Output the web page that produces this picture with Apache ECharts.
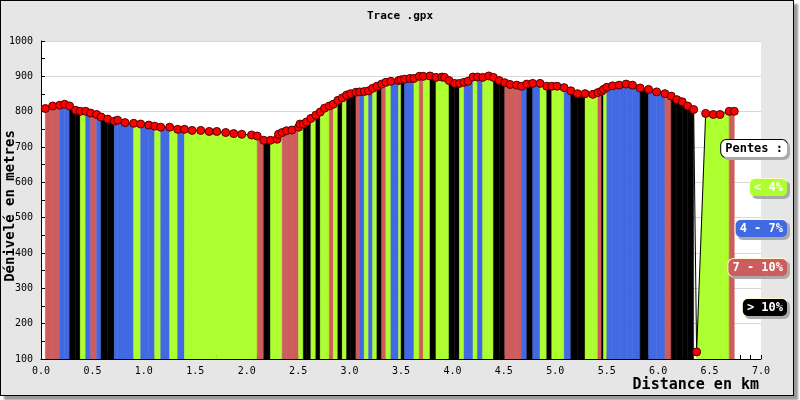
<!doctype html>
<html>
<head>
    <meta charset="UTF-8">
    <title>Trace .gpx</title>
    <script src="https://cdn.jsdelivr.net/npm/echarts@6/dist/echarts.min.js"></script>
    <style>
        body { margin: 0; background: #fff; }
        #frame {
            position: absolute; left: 0; top: 0;
            width: 792px; height: 394px;
            border: 1px solid #000;
            background: #e6e6e6;
            box-shadow: 4px 4px 2px #999;
        }
        #main { position: absolute; left: 0; top: 0; width: 800px; height: 400px; }
    </style>
</head>
<body>
<div id="frame"></div>
<div id="main"></div>
<script>
    // distance (km) / altitude (m) of each gpx point
    var distKm = [
        0.042, 0.113, 0.181, 0.230, 0.278, 0.337, 0.382, 0.434, 0.483, 0.541,
        0.584, 0.648, 0.713, 0.745, 0.817, 0.901, 0.969, 1.047, 1.105, 1.164,
        1.251, 1.329, 1.395, 1.469, 1.553, 1.635, 1.709, 1.796, 1.874, 1.952,
        2.047, 2.102, 2.166, 2.231, 2.295, 2.309, 2.345, 2.387, 2.439, 2.504,
        2.518, 2.550, 2.582, 2.624, 2.672, 2.715, 2.757, 2.803, 2.842, 2.886,
        2.929, 2.971, 3.010, 3.062, 3.098, 3.143, 3.185, 3.224, 3.266, 3.312,
        3.353, 3.402, 3.477, 3.501, 3.535, 3.587, 3.626, 3.678, 3.717, 3.782,
        3.840, 3.898, 3.923, 3.967, 4.022, 4.068, 4.113, 4.151, 4.200, 4.243,
        4.294, 4.353, 4.399, 4.455, 4.509, 4.560, 4.625, 4.671, 4.723, 4.781,
        4.852, 4.917, 4.966, 5.017, 5.086, 5.151, 5.216, 5.290, 5.365, 5.414,
        5.450, 5.469, 5.501, 5.557, 5.621, 5.689, 5.751, 5.825, 5.907, 5.985,
        6.066, 6.127, 6.182, 6.234, 6.287, 6.345, 6.374, 6.462, 6.536, 6.601,
        6.691, 6.740
    ];
    var altM = [
        809, 816, 818, 821, 816, 804, 801, 801, 796, 792,
        785, 779, 773, 776, 769, 767, 765, 762, 759, 756,
        756, 750, 750, 747, 747, 744, 744, 741, 738, 736,
        734, 731, 719, 719, 722, 736, 741, 746, 748, 756,
        765, 765, 771, 781, 790, 799, 810, 816, 821, 832,
        839, 847, 851, 855, 856, 857, 859, 866, 872, 878,
        883, 886, 888, 890, 892, 894, 894, 900, 900, 901,
        897, 898, 897, 888, 880, 880, 883, 886, 898, 898,
        897, 901, 897, 888, 882, 877, 875, 872, 878, 880,
        880, 872, 872, 872, 868, 859, 851, 851, 849, 854,
        858, 863, 869, 873, 875, 878, 875, 867, 863, 856,
        851, 844, 834, 828, 816, 806, 120, 795, 792, 792,
        801, 801
    ];
    // slope class of each segment (point i -> i+1), index into pentes, -1 = not drawn
    var segClass = [
        2, 2, 1, 1, 3, 3, 0, 1, 2, 1,
        3, 3, 1, 1, 1, 0, 1, 1, 0, 1,
        0, 1, 0, 0, 0, 0, 0, 0, 0, 0,
        0, 2, 3, 0, 0, 0, 2, 2, 2, 0,
        0, 3, 3, 0, 3, 0, 0, 2, 0, 3,
        0, 3, 3, 2, 1, 0, 1, 0, 3, 2,
        0, 1, 0, 3, 1, 1, 0, 2, 0, 3,
        0, 0, 0, 3, 3, 0, 1, 1, 0, 1,
        0, 0, 3, 3, 2, 2, 2, 1, 3, 1,
        0, 3, 0, 0, 1, 3, 3, 0, 0, 2,
        3, 0, 1, 1, 1, 1, 1, 3, 1, 1,
        2, 3, 3, 3, 3, -1, 0, 0, 0, 0,
        2
    ];
    var pentes = ['< 4%', '4 - 7%', '7 - 10%', '> 10%'];
    var penteColors = ['#adff2f', '#4169e1', '#cd5c5c', '#000000'];

    var font = 'DejaVu Sans Mono';
    var yMin = 100;

    var points = [];
    var segs = [];
    for (var i = 0; i < distKm.length; i++) {
        points.push([distKm[i], altM[i]]);
        if (i < distKm.length - 1) {
            segs.push([distKm[i], altM[i], distKm[i + 1], altM[i + 1], segClass[i]]);
        }
    }

    var boxStyle = function (text, fill, bg, border) {
        return {
            text: text,
            font: 'bold 12px ' + font,
            fill: fill,
            backgroundColor: bg,
            borderColor: border,
            borderWidth: 1,
            borderRadius: 5,
            padding: [3, 4, 2, 4],
            shadowColor: '#aaa',
            shadowOffsetX: 2,
            shadowOffsetY: 2
        };
    };

    // legend boxes on the right + y axis title
    var graphics = [{
        type: 'text', right: 12, top: 139, z: 100,
        style: boxStyle('Pentes :', '#000', '#fff', '#000')
    }, {
        type: 'text', x: 10, y: 206, rotation: Math.PI / 2,
        style: {
            text: 'Dénivelé en metres',
            font: 'bold 14px ' + font,
            fill: '#000',
            align: 'center',
            verticalAlign: 'middle'
        }
    }];
    var legendTops = [178, 219, 258, 298];
    pentes.forEach(function (label, k) {
        graphics.push({
            type: 'text', right: 12, top: legendTops[k], z: 100,
            style: boxStyle(label, '#fff', penteColors[k], '#fff8d0')
        });
    });

    var myChart = echarts.init(document.getElementById('main'));

    var option = {
        animation: false,
        title: {
            text: 'Trace .gpx',
            left: 'center',
            top: 6,
            textStyle: { fontFamily: font, fontSize: 11, fontWeight: 'bold', color: '#000' }
        },
        grid: {
            left: 41, top: 41, width: 720, height: 318,
            outerBoundsMode: 'none',
            containLabel: false,
            show: true, backgroundColor: '#fff', borderWidth: 0
        },
        xAxis: {
            type: 'value',
            min: 0, max: 7, interval: 0.5,
            name: 'Distance en km',
            nameLocation: 'end',
            nameGap: -2,
            nameTextStyle: {
                fontFamily: font, fontSize: 15, fontWeight: 'bold', color: '#000',
                align: 'right', verticalAlign: 'top', padding: [19, 0, 0, 0]
            },
            axisLine: { lineStyle: { color: '#000', width: 1 } },
            axisTick: { inside: true, length: 4, lineStyle: { color: '#000' } },
            minorTick: { show: true, splitNumber: 5, length: 4, lineStyle: { color: '#000' } },
            axisLabel: {
                fontFamily: font, fontSize: 10, color: '#000', margin: 7,
                formatter: function (v) { return v.toFixed(1); }
            },
            splitLine: { show: false }
        },
        yAxis: {
            type: 'value',
            min: yMin, max: 1000, interval: 100,
            axisLine: { show: true, lineStyle: { color: '#000', width: 1 } },
            axisTick: { inside: true, length: 4, lineStyle: { color: '#000' } },
            minorTick: { show: true, splitNumber: 2, length: 4, lineStyle: { color: '#000' } },
            axisLabel: {
                fontFamily: font, fontSize: 10, color: '#000', margin: 8,
                formatter: function (v) { return String(v); }
            },
            splitLine: { lineStyle: { color: '#d8d8d8', width: 1 } }
        },
        graphic: graphics,
        series: [
            {
                // coloured band under each segment
                type: 'custom',
                data: segs,
                encode: { x: [0, 2], y: [1, 3] },
                clip: true,
                renderItem: function (params, api) {
                    var c = api.value(4);
                    if (c < 0) {
                        return null;
                    }
                    var p0 = api.coord([api.value(0), api.value(1)]);
                    var p1 = api.coord([api.value(2), api.value(3)]);
                    var b1 = api.coord([api.value(2), yMin]);
                    var b0 = api.coord([api.value(0), yMin]);
                    return {
                        type: 'polygon',
                        shape: { points: [p0, p1, b1, b0] },
                        style: { fill: penteColors[c], stroke: penteColors[c], lineWidth: 0.5 }
                    };
                },
                z: 1
            },
            {
                type: 'line',
                data: points,
                symbol: 'circle',
                symbolSize: 8,
                showAllSymbol: true,
                lineStyle: { color: '#000', width: 1 },
                itemStyle: { color: '#ff0000', borderColor: '#550000', borderWidth: 1 },
                z: 3
            }
        ]
    };

    myChart.setOption(option);
</script>
</body>
</html>
